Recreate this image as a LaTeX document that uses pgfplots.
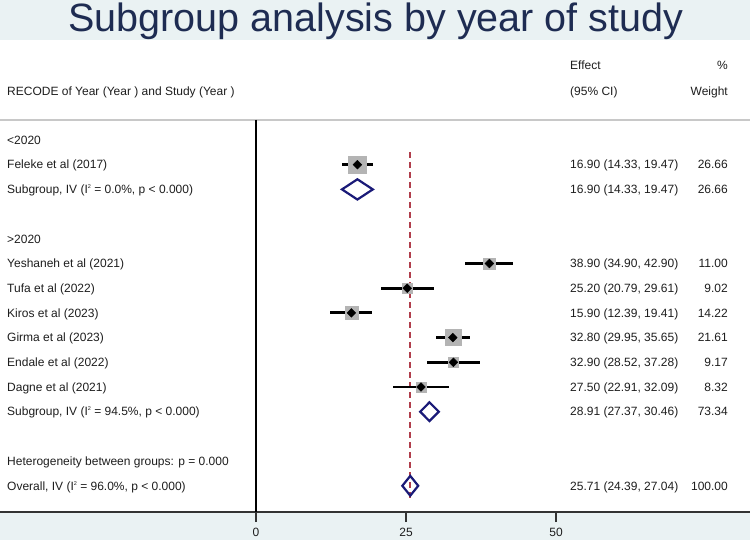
\documentclass[border=0pt]{standalone}
\usepackage{fontspec}
\setmainfont{Liberation Sans}
\usepackage{pgfplots}
\pgfplotsset{compat=1.18}
\usepackage{pgfplotstable}
\definecolor{band}{HTML}{EAF2F3}
\definecolor{titlenavy}{HTML}{1E2C52}
\definecolor{dnavy}{HTML}{1A1A78}
\definecolor{refred}{HTML}{B03E4C}
\definecolor{boxgray}{HTML}{B4B4B4}
\definecolor{sepgray}{HTML}{C8C8C8}
\definecolor{axcol}{HTML}{333333}
\definecolor{txt}{HTML}{1E1E1E}
\newcommand{\fs}{\fontsize{12bp}{14bp}\selectfont}
\newcommand{\isq}{I\raisebox{5bp}{\fontsize{5.5bp}{5.5bp}\selectfont 2}}
\tikzset{
  lab/.style={anchor=base west, yshift=-4.3bp, font=\fs, text=txt, inner sep=0pt},
  rlab/.style={anchor=base east, yshift=-4.3bp, font=\fs, text=txt, inner sep=0pt},
}

% individual studies: row position (top = 15), estimate, 95% CI, weight
\pgfplotstableread{
pos est lo hi w
14 16.90 14.33 19.47 26.66
10 38.90 34.90 42.90 11.00
9  25.20 20.79 29.61 9.02
8  15.90 12.39 19.41 14.22
7  32.80 29.95 35.65 21.61
6  32.90 28.52 37.28 9.17
5  27.50 22.91 32.09 8.32
}\studies

\begin{document}
\begin{tikzpicture}
\fill[band] (0,0) rectangle (750bp,540bp);
\fill[white] (0,28bp) rectangle (750bp,500bp);
\node[anchor=base, inner sep=0pt, font=\fontsize{39.5bp}{40bp}\selectfont, text=titlenavy]
  at (376bp,508bp) {Subgroup analysis by year of study};
\begin{axis}[
  at={(0bp,28bp)}, anchor=south west,
  width=750bp, height=392bp, scale only axis,
  xmin=-42.6667, xmax=82.3333, ymin=-0.0607, ymax=15.8097,
  clip=false, enlargelimits=false,
  axis y line=none, axis x line*=bottom,
  x axis line style={draw=axcol, line width=2bp},
  xtick={0,25,50}, tick align=outside, major tick length=10bp,
  x tick style={draw=axcol, line width=1.5bp},
  xticklabel style={font=\fs, text=txt, inner sep=0pt, yshift=-6bp},
  /pgf/number format/assume math mode=true,
]
% separator and null line
\draw[sepgray, line width=2bp] (axis cs:-42.6667,15.8097) -- (axis cs:82.3333,15.8097);
\draw[black, line width=1.5bp] (axis cs:0,15.8097) -- (axis cs:0,-0.0607);
% overall effect line
\addplot[refred, line width=1.6bp, dash pattern=on 6bp off 4bp] coordinates {(25.71,14.514) (25.71,0.506)};
% weight boxes
\addplot[scatter, only marks, mark=square*,
  scatter/use mapped color={draw=boxgray, fill=boxgray},
  visualization depends on={1.745*sqrt(\thisrow{w}) \as \hs},
  scatter/@pre marker code/.append style={/tikz/mark size=\hs}]
  table[x=est, y=pos] {\studies};
% confidence intervals
\addplot[draw=none, mark=none,
  error bars/.cd, x dir=both, x explicit, error mark=none,
  error bar style={draw=black, line width=2.9bp}]
  table[x=est, y=pos, x error minus expr=\thisrow{est}-\thisrow{lo},
        x error plus expr=\thisrow{hi}-\thisrow{est}] {\studies};
% point estimates
\addplot[only marks, mark=square*, mark size=3.1bp, mark options={rotate=45, fill=black, draw=black}]
  table[x=est, y=pos] {\studies};
% pooled estimates
\addplot[dnavy, line width=2.2bp, line join=miter] coordinates {(14.33,13) (16.90,13.41) (19.47,13) (16.90,12.59)} -- cycle;
\addplot[dnavy, line width=2.2bp, line join=miter] coordinates {(27.37,4) (28.91,4.38) (30.46,4) (28.91,3.62)} -- cycle;
\addplot[dnavy, line width=2.2bp, line join=miter] coordinates {(24.39,1) (25.71,1.40) (27.04,1) (25.71,0.60)} -- cycle;
% header
\node[lab] at (axis cs:-41.5,16.984) {RECODE of Year (Year ) and Study (Year )};
\node[lab] at (axis cs:52.333,18.036) {Effect};
\node[lab] at (axis cs:52.333,16.984) {(95\% CI)};
\node[rlab] at (axis cs:78.667,18.036) {\%};
\node[rlab] at (axis cs:78.667,16.984) {Weight};
% left labels
\node[lab] at (axis cs:-41.5,15) {<2020};
\node[lab] at (axis cs:-41.5,14) {Feleke et al (2017)};
\node[lab] at (axis cs:-41.5,13) {Subgroup, IV (\isq{} = 0.0\%, p < 0.000)};
\node[lab] at (axis cs:-41.5,11) {>2020};
\node[lab] at (axis cs:-41.5,10) {Yeshaneh et al (2021)};
\node[lab] at (axis cs:-41.5,9) {Tufa et al (2022)};
\node[lab] at (axis cs:-41.5,8) {Kiros et al (2023)};
\node[lab] at (axis cs:-41.5,7) {Girma et al (2023)};
\node[lab] at (axis cs:-41.5,6) {Endale et al (2022)};
\node[lab] at (axis cs:-41.5,5) {Dagne et al (2021)};
\node[lab] at (axis cs:-41.5,4) {Subgroup, IV (\isq{} = 94.5\%, p < 0.000)};
\node[lab] at (axis cs:-41.5,2) {Heterogeneity between groups: p = 0.000};
\node[lab] at (axis cs:-41.5,1) {Overall, IV (\isq{} = 96.0\%, p < 0.000)};
% right columns
\node[lab] at (axis cs:52.333,14) {16.90 (14.33, 19.47)};
\node[rlab] at (axis cs:78.667,14) {26.66};
\node[lab] at (axis cs:52.333,13) {16.90 (14.33, 19.47)};
\node[rlab] at (axis cs:78.667,13) {26.66};
\node[lab] at (axis cs:52.333,10) {38.90 (34.90, 42.90)};
\node[rlab] at (axis cs:78.667,10) {11.00};
\node[lab] at (axis cs:52.333,9) {25.20 (20.79, 29.61)};
\node[rlab] at (axis cs:78.667,9) {9.02};
\node[lab] at (axis cs:52.333,8) {15.90 (12.39, 19.41)};
\node[rlab] at (axis cs:78.667,8) {14.22};
\node[lab] at (axis cs:52.333,7) {32.80 (29.95, 35.65)};
\node[rlab] at (axis cs:78.667,7) {21.61};
\node[lab] at (axis cs:52.333,6) {32.90 (28.52, 37.28)};
\node[rlab] at (axis cs:78.667,6) {9.17};
\node[lab] at (axis cs:52.333,5) {27.50 (22.91, 32.09)};
\node[rlab] at (axis cs:78.667,5) {8.32};
\node[lab] at (axis cs:52.333,4) {28.91 (27.37, 30.46)};
\node[rlab] at (axis cs:78.667,4) {73.34};
\node[lab] at (axis cs:52.333,1) {25.71 (24.39, 27.04)};
\node[rlab] at (axis cs:78.667,1) {100.00};
\end{axis}
\pgfresetboundingbox
\useasboundingbox (0,0) rectangle (750bp,540bp);
\end{tikzpicture}
\end{document}
